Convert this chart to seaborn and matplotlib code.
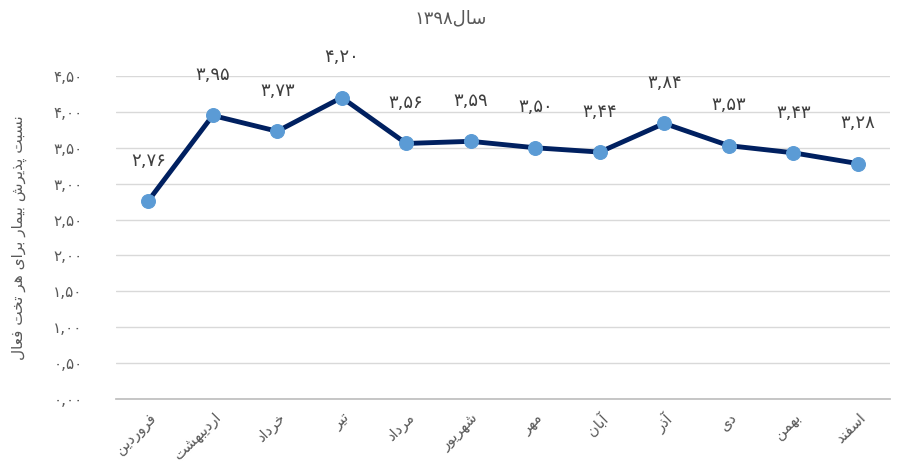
import re
import numpy as np
import pandas as pd
import matplotlib
matplotlib.use("Agg")
import matplotlib.pyplot as plt
import seaborn as sns

# chart data
months = ["فروردین", "اردیبهشت", "خرداد", "تیر", "مرداد", "شهریور",
          "مهر", "آبان", "آذر", "دی", "بهمن", "اسفند"]
ratio = [2.76, 3.95, 3.73, 4.20, 3.56, 3.59, 3.50, 3.44, 3.84, 3.53, 3.43, 3.28]
y_ticks = [0.0, 0.5, 1.0, 1.5, 2.0, 2.5, 3.0, 3.5, 4.0, 4.5]
title = "سال۱۳۹۸"
y_label = "نسبت پذیرش بیمار برای هر تخت فعال"

# (isolated, final, initial, medial) presentation forms
FORMS = {
    "ا": (0xFE8D, 0xFE8E, None, None),
    "آ": (0xFE81, 0xFE82, None, None),
    "ب": (0xFE8F, 0xFE90, 0xFE91, 0xFE92),
    "پ": (0xFB56, 0xFB57, 0xFB58, 0xFB59),
    "ت": (0xFE95, 0xFE96, 0xFE97, 0xFE98),
    "خ": (0xFEA5, 0xFEA6, 0xFEA7, 0xFEA8),
    "د": (0xFEA9, 0xFEAA, None, None),
    "ذ": (0xFEAB, 0xFEAC, None, None),
    "ر": (0xFEAD, 0xFEAE, None, None),
    "ز": (0xFEAF, 0xFEB0, None, None),
    "س": (0xFEB1, 0xFEB2, 0xFEB3, 0xFEB4),
    "ش": (0xFEB5, 0xFEB6, 0xFEB7, 0xFEB8),
    "ع": (0xFEC9, 0xFECA, 0xFECB, 0xFECC),
    "ف": (0xFED1, 0xFED2, 0xFED3, 0xFED4),
    "ل": (0xFEDD, 0xFEDE, 0xFEDF, 0xFEE0),
    "م": (0xFEE1, 0xFEE2, 0xFEE3, 0xFEE4),
    "ن": (0xFEE5, 0xFEE6, 0xFEE7, 0xFEE8),
    "ه": (0xFEE9, 0xFEEA, 0xFEEB, 0xFEEC),
    "و": (0xFEED, 0xFEEE, None, None),
    "ی": (0xFBFC, 0xFBFD, 0xFBFE, 0xFBFF),
}
NUM = "۰۱۲۳۴۵۶۷۸۹0123456789,."


def join_shape(word):
    out = []
    for i, ch in enumerate(word):
        f = FORMS.get(ch)
        if f is None:
            out.append(ch)
            continue
        prev = FORMS.get(word[i - 1]) if i > 0 else None
        nxt = FORMS.get(word[i + 1]) if i + 1 < len(word) else None
        join_prev = prev is not None and prev[2] is not None
        join_next = f[2] is not None and nxt is not None
        if join_prev and join_next:
            code = f[3]
        elif join_prev:
            code = f[1]
        elif join_next:
            code = f[2]
        else:
            code = f[0]
        out.append(chr(code))
    return "".join(out)


def rtl(text):
    runs = re.findall(r"[۰-۹0-9,.]+|[^۰-۹0-9,.]+", join_shape(text))
    return "".join(r if r[0] in NUM else r[::-1] for r in reversed(runs))


def fa_num(v):
    s = f"{v:.2f}".replace(".", ",")
    return s.translate(str.maketrans("0123456789", "۰۱۲۳۴۵۶۷۸۹"))


sns.set_theme(style="white")
plt.rcParams["font.family"] = ["DejaVu Sans"]
grey = "#595959"

df = pd.DataFrame({"month": [rtl(m) for m in months], "ratio": ratio})

fig = plt.figure(figsize=(9.02, 4.68), dpi=100)
ax = fig.add_axes([116 / 902, 1 - 399 / 468, 774 / 902, 323 / 468])

sns.lineplot(data=df, x="month", y="ratio", sort=False, ax=ax,
             color="#002060", linewidth=3.5, marker="o", markersize=10,
             markerfacecolor="#5B9BD5", markeredgecolor="#5B9BD5", zorder=3)

for i, v in enumerate(ratio):
    ax.annotate(fa_num(v), (i, v), xytext=(0, 29), textcoords="offset points",
                ha="center", va="center", fontsize=13, color="#404040",
                annotation_clip=False)

ax.set_xlim(-0.5, len(months) - 0.5)
ax.set_ylim(0, 4.5)
ax.set_yticks(y_ticks)
ax.set_yticklabels([fa_num(t) for t in y_ticks], fontsize=11, color=grey)
ax.yaxis.grid(True, color="#D9D9D9", linewidth=1)
ax.set_axisbelow(True)

ax.set_xticks(np.arange(-0.5, len(months), 1), minor=True)
ax.tick_params(axis="x", which="major", length=0, pad=8)
ax.tick_params(axis="x", which="minor", length=6, color="#BFBFBF", width=1)
ax.tick_params(axis="y", length=0, pad=24)
for lab in ax.get_xticklabels():
    lab.set_rotation(45)
    lab.set_ha("right")
    lab.set_va("top")
    lab.set_rotation_mode("anchor")
    lab.set_fontsize(10.5)
    lab.set_color(grey)

for s in ["left", "right", "top"]:
    ax.spines[s].set_visible(False)
ax.spines["bottom"].set_color("#BFBFBF")
ax.set_xlabel("")
ax.set_ylabel(rtl(y_label), fontsize=11, color=grey)
ax.yaxis.set_label_coords(-0.115, 0.5)

fig.text(0.5, 1 - 18 / 468, rtl(title), ha="center", va="center",
         fontsize=13, color=grey)

fig.savefig("out.png", dpi=100)
